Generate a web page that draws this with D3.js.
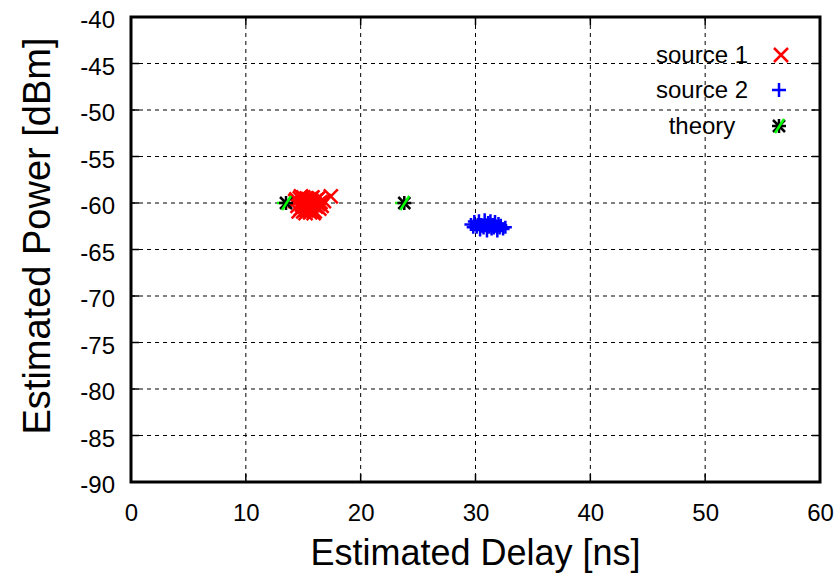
<!DOCTYPE html>
<html><head><meta charset="utf-8">
<script src="https://cdn.jsdelivr.net/npm/d3@7"></script>
<style>body{margin:0;background:#fff}svg{display:block}text{font-family:"Liberation Sans",Arial,sans-serif}</style>
</head><body>
<script>
const xTicks=[0,10,20,30,40,50,60];
const yTicks=[-40,-45,-50,-55,-60,-65,-70,-75,-80,-85,-90];
const source1=[[14.3,-59.8],[14.5,-60.3],[14.7,-59.5],[14.8,-60.6],[14.9,-60.0],[15.0,-59.4],[15.1,-60.4],[15.2,-59.9],[15.3,-60.8],[15.4,-60.2],[15.5,-59.6],[15.5,-60.5],[15.6,-60.0],[15.7,-59.5],[15.8,-60.7],[15.9,-60.2],[16.0,-59.8],[16.1,-60.4],[16.2,-59.6],[16.3,-60.1],[16.4,-60.6],[16.5,-59.9],[14.6,-60.9],[15.0,-60.9],[15.6,-61.0],[16.0,-60.9],[14.4,-59.6],[15.3,-59.5],[15.8,-59.4],[16.6,-60.3],[16.8,-59.8],[17.4,-59.3],[14.9,-60.2],[15.7,-60.3],[16.3,-59.5],[15.2,-61.1],[15.9,-61.1],[14.8,-59.3]];
const source2=[[29.6,-62.3],[29.9,-62.0],[30.1,-62.6],[30.3,-61.9],[30.4,-62.9],[30.5,-62.3],[30.7,-62.7],[30.8,-61.8],[30.9,-62.4],[31.0,-63.0],[31.1,-62.1],[31.2,-62.6],[31.3,-61.9],[31.4,-62.8],[31.5,-62.3],[31.6,-62.7],[31.7,-62.0],[31.8,-62.5],[31.9,-63.0],[32.0,-62.2],[32.1,-62.7],[32.2,-62.4],[32.4,-62.8],[30.2,-62.3],[30.6,-62.5],[31.3,-62.4],[31.6,-62.5],[29.8,-62.6],[32.6,-62.6]];
const theory=[[13.5,-60.0],[23.8,-60.0]];
const legendLabels=["source 1","source 2","theory"];

const W=834,H=576,L=131,R=820,T=17,B=482;
const svg=d3.select("body").append("svg").attr("width",W).attr("height",H);
const x=d3.scaleLinear().domain([0,60]).range([L,R]);
const y=d3.scaleLinear().domain([-90,-40]).range([B,T]);

// grid
const g=svg.append("g");
g.selectAll(".gx").data(xTicks.slice(1,-1)).enter().append("line")
 .attr("x1",d=>x(d)).attr("x2",d=>x(d)).attr("y1",T).attr("y2",B)
 .attr("stroke","#000").attr("stroke-width",1).attr("stroke-dasharray","4,4");
g.selectAll(".gy").data(yTicks.slice(1,-1)).enter().append("line")
 .attr("y1",d=>y(d)).attr("y2",d=>y(d)).attr("x1",L).attr("x2",R)
 .attr("stroke","#000").attr("stroke-width",1).attr("stroke-dasharray","4,4");

// axes
const fmt=d=>String(d);
const xa=svg.append("g").attr("transform",`translate(0,${B})`).call(d3.axisBottom(x).tickValues(xTicks).tickFormat(fmt).tickSize(0).tickPadding(22));
const ya=svg.append("g").attr("transform",`translate(${L},0)`).call(d3.axisLeft(y).tickValues(yTicks).tickFormat(fmt).tickSize(0).tickPadding(16));
[xa,ya].forEach(a=>{a.select(".domain").remove();a.selectAll("text").attr("font-size",24).attr("fill","#000").attr("font-family","Liberation Sans, Arial, sans-serif");});
xa.selectAll("text").attr("dy","0.71em");
ya.selectAll("text").attr("dy","0.45em");
// ticks inside
svg.append("g").selectAll("line").data(xTicks).enter().append("line")
 .attr("x1",d=>x(d)).attr("x2",d=>x(d)).attr("y1",B).attr("y2",B-8).attr("stroke","#000").attr("stroke-width",1.5);
svg.append("g").selectAll("line").data(xTicks).enter().append("line")
 .attr("x1",d=>x(d)).attr("x2",d=>x(d)).attr("y1",T).attr("y2",T+8).attr("stroke","#000").attr("stroke-width",1.5);
svg.append("g").selectAll("line").data(yTicks).enter().append("line")
 .attr("y1",d=>y(d)).attr("y2",d=>y(d)).attr("x1",L).attr("x2",L+8).attr("stroke","#000").attr("stroke-width",1.5);
svg.append("g").selectAll("line").data(yTicks).enter().append("line")
 .attr("y1",d=>y(d)).attr("y2",d=>y(d)).attr("x1",R).attr("x2",R-8).attr("stroke","#000").attr("stroke-width",1.5);
svg.append("rect").attr("x",L).attr("y",T).attr("width",R-L).attr("height",B-T)
 .attr("fill","none").attr("stroke","#000").attr("stroke-width",3);

// titles
svg.append("text").attr("x",(L+R)/2).attr("y",565).attr("text-anchor","middle").attr("font-size",36).text("Estimated Delay [ns]");
svg.append("text").attr("transform",`translate(37,236) rotate(-90)`).attr("text-anchor","middle").attr("dy","0.35em").attr("font-size",38).text("Estimated Power [dBm]");

// markers
function cross(sel,cx,cy,s,color){
  sel.append("path").attr("d",`M${cx-s},${cy-s}L${cx+s},${cy+s}M${cx-s},${cy+s}L${cx+s},${cy-s}`).attr("stroke",color).attr("stroke-width",2.5).attr("fill","none");
}
function plus(sel,cx,cy,s,color){
  sel.append("path").attr("d",`M${cx-s},${cy}L${cx+s},${cy}M${cx},${cy-s}L${cx},${cy+s}`).attr("stroke",color).attr("stroke-width",2.5).attr("fill","none");
}
function theo(sel,cx,cy){
  const s=6;
  sel.append("path").attr("d",`M${cx-s},${cy-s}L${cx+s},${cy+s}M${cx-s},${cy+s}L${cx+s},${cy-s}M${cx-s-1},${cy}L${cx+s+1},${cy}M${cx},${cy-s-1}L${cx},${cy+s+1}`).attr("stroke","#000").attr("stroke-width",2.5).attr("fill","none");
  sel.append("path").attr("d",`M${cx-4},${cy+7}L${cx+5},${cy-7}`).attr("stroke","#0f0").attr("stroke-width",2.5);
}
const m=svg.append("g");
source1.forEach(d=>cross(m,x(d[0]),y(d[1]),7,"#f00"));
source2.forEach(d=>plus(m,x(d[0]),y(d[1]),6.5,"#00f"));
theory.forEach(d=>{m.append("path").attr("d",`M${x(d[0])-9},${y(d[1])}L${x(d[0])},${y(d[1])}`).attr("stroke","#0f0").attr("stroke-width",2.5);theo(m,x(d[0]),y(d[1]));});

// legend
const lg=svg.append("g");
const ly=[55,90,126];
legendLabels.forEach((t,i)=>{
  lg.append("text").attr("x",702).attr("y",ly[i]).attr("dy","0.35em").attr("text-anchor","middle").attr("font-size",24).text(t);
});
cross(lg,781,ly[0],7,"#f00");
plus(lg,779,ly[1],7,"#00f");
theo(lg,779,ly[2]);
</script>
</body></html>
